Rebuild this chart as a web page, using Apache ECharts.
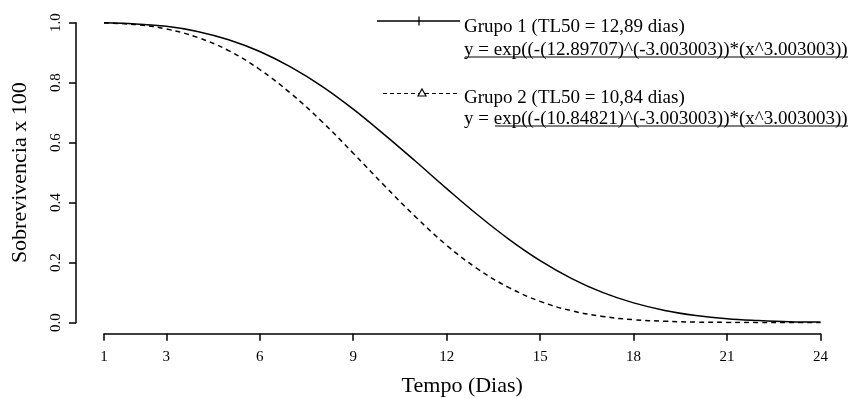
<!DOCTYPE html>
<html>
<head>
<meta charset="utf-8">
<script src="https://cdn.jsdelivr.net/npm/echarts@6/dist/echarts.min.js"></script>
<style>
  html, body { margin: 0; padding: 0; background: #fff; }
  #chart { width: 852px; height: 398px; }
</style>
</head>
<body>
<div id="chart"></div>
<script>
    // dias (eixo x) e sobrevivencia
    var dias = [1, 2, 3, 4, 5, 6, 7, 8, 9, 10, 11, 12, 13, 14, 15, 16, 17, 18, 19, 20, 21, 22, 23, 24];
    var grupo1 = [0.9995, 0.996, 0.988, 0.971, 0.943, 0.904, 0.852, 0.788, 0.712, 0.627, 0.538, 0.447,
                  0.359, 0.278, 0.207, 0.148, 0.101, 0.066, 0.041, 0.024, 0.013, 0.007, 0.003, 0.002];
    var grupo2 = [0.999, 0.994, 0.979, 0.951, 0.907, 0.844, 0.764, 0.670, 0.565, 0.457, 0.353, 0.258,
                  0.179, 0.117, 0.071, 0.040, 0.021, 0.010, 0.005, 0.002, 0.001, 0.0002, 0.0001, 0.0];
    var xTicks = [1, 3, 6, 9, 12, 15, 18, 21, 24];
    var nomes = ['Grupo 1 (TL50 = 12,89 dias)', 'Grupo 2 (TL50 = 10,84 dias)'];
    var equacoes = ['y = exp((-(12.89707)^(-3.003003))*(x^3.003003))',
                    'y = exp((-(10.84821)^(-3.003003))*(x^3.003003))'];

    function pares(ys) {
        return dias.map(function (d, i) { return [d, ys[i]]; });
    }

    var fonte = '"Liberation Serif", "Times New Roman", serif';
    var chart = echarts.init(document.getElementById('chart'));

    var option = {
        backgroundColor: '#fff',
        animation: false,
        textStyle: { fontFamily: fonte, color: '#000' },
        grid: { left: 104, right: 31.5, top: 22.7, bottom: 75.3, outerBoundsMode: 'none' },
        xAxis: {
            type: 'value',
            min: 1,
            max: 24,
            offset: 11,
            name: 'Tempo (Dias)',
            nameLocation: 'middle',
            nameGap: 42,
            nameTextStyle: { fontFamily: fonte, fontSize: 22, color: '#000' },
            axisLine: { onZero: false, lineStyle: { color: '#000', width: 1.5 } },
            axisTick: { show: true, length: 7, customValues: xTicks, lineStyle: { color: '#000', width: 1.5 } },
            axisLabel: { customValues: xTicks, margin: 16, fontFamily: fonte, fontSize: 15, color: '#000' },
            splitLine: { show: false }
        },
        yAxis: {
            type: 'value',
            min: 0,
            max: 1,
            interval: 0.2,
            offset: 28,
            name: 'Sobrevivencia x 100',
            nameLocation: 'middle',
            nameGap: 45,
            nameTextStyle: { fontFamily: fonte, fontSize: 22, color: '#000' },
            axisLine: { show: true, onZero: false, lineStyle: { color: '#000', width: 1.5 } },
            axisTick: { show: true, length: 7, lineStyle: { color: '#000', width: 1.5 } },
            axisLabel: {
                rotate: 90, margin: 12, fontFamily: fonte, fontSize: 15, color: '#000',
                formatter: function (v) { return v.toFixed(1); }
            },
            splitLine: { show: false }
        },
        series: [
            {
                name: nomes[0],
                type: 'line',
                data: pares(grupo1),
                smooth: 0.4,
                showSymbol: false,
                lineStyle: { color: '#000', width: 1.5, type: 'solid' }
            },
            {
                name: nomes[1],
                type: 'line',
                data: pares(grupo2),
                smooth: 0.4,
                showSymbol: false,
                lineStyle: { color: '#000', width: 1.5, type: [5, 4] }
            }
        ],
        graphic: [
            // legenda grupo 1
            { type: 'line', shape: { x1: 377, y1: 21, x2: 460, y2: 21 }, style: { stroke: '#000', lineWidth: 1.3 } },
            { type: 'line', shape: { x1: 419, y1: 16.5, x2: 419, y2: 25.5 }, style: { stroke: '#000', lineWidth: 1.3 } },
            { type: 'text', left: 464, top: 18, style: { text: nomes[0], font: '19px ' + fonte, fill: '#000' } },
            { type: 'text', left: 464, top: 41, style: { text: equacoes[0], font: '19px ' + fonte, fill: '#000' } },
            { type: 'line', shape: { x1: 465, y1: 57, x2: 848, y2: 57 }, style: { stroke: '#000', lineWidth: 1.2 } },
            // legenda grupo 2
            { type: 'line', shape: { x1: 383, y1: 93.5, x2: 460, y2: 93.5 }, style: { stroke: '#000', lineWidth: 1.2, lineDash: [4, 3] } },
            { type: 'polygon', shape: { points: [[422, 89], [426, 96], [418, 96]] }, style: { fill: '#fff', stroke: '#000', lineWidth: 1.2 } },
            { type: 'text', left: 464, top: 89, style: { text: nomes[1], font: '19px ' + fonte, fill: '#000' } },
            { type: 'text', left: 464, top: 110, style: { text: equacoes[1], font: '19px ' + fonte, fill: '#000' } },
            { type: 'line', shape: { x1: 495, y1: 126, x2: 848, y2: 126 }, style: { stroke: '#000', lineWidth: 1.2 } }
        ]
    };

    chart.setOption(option);
</script>
</body>
</html>
